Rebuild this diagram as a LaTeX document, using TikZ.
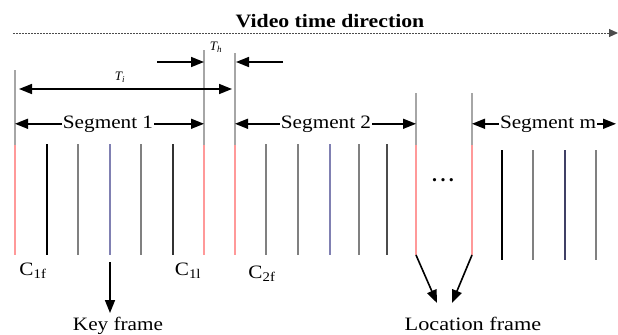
\documentclass[tikz,border=0pt]{standalone}
\usepackage{fontspec}
\setmainfont{Liberation Serif}
\usetikzlibrary{arrows.meta,positioning,calc}

\begin{document}
\begin{tikzpicture}[x=1bp,y=-1bp,
  lbl/.style={font=\fontsize{19}{21}\selectfont, inner sep=0pt, anchor=base, xscale=1.12},
  tip/.style={-{Triangle[length=13bp,width=10bp]}, line width=1.6bp},
  tiptip/.style={{Triangle[length=13bp,width=10bp]}-{Triangle[length=13bp,width=10bp]}, line width=1.6bp},
  frm/.style={line width=1.4bp}]
\useasboundingbox (0,0) rectangle (618,334);
% Time axis
\node[font=\bfseries\fontsize{19}{21}\selectfont, inner sep=0pt, anchor=base, xscale=1.15] (title) at (330,27) {Video time direction};
\coordinate (ax0) at (13,33);
\coordinate (ax1) at (618,33);
\draw[black!70, line width=1bp, dash pattern=on 2bp off 1bp, -{Triangle[length=9bp,width=8bp]}] (ax0) -- (ax1);
% Segment boundaries (first and last frames)
\foreach \x/\nm/\t in {15/b1/70, 204/b2/50, 235/b3/53, 416/b4/93, 472/b5/93} {
  \draw[frm, gray!70] (\x,\t) -- (\x,145);
  \draw[frm, red!40] (\x,145) -- (\x,255);
  \coordinate (\nm) at (\x,\t);
  \coordinate (\nm b) at (\x,255);
}
% Frames inside the segments
\foreach \x/\c in {47/black, 78/gray, 110/blue!25!gray!80, 141/gray, 173/black!80, 266/gray, 298/gray, 330/blue!25!gray!80, 359/gray, 387/black!70}
  \draw[frm, \c] (\x,144) -- (\x,255);
\foreach \x/\c in {502/black, 533/gray, 565/blue!20!black!75, 596/gray}
  \draw[frm, \c] (\x,150) -- (\x,260);
\node[font=\bfseries\fontsize{20}{20}\selectfont, inner sep=0pt, anchor=base] (dots) at (443,181) {.\,.\,.};
% T_h and T_i
\coordinate (th1) at (157,62);
\coordinate (th2) at (283,62);
\draw[tip] (th1) -- (b2 |- th1);
\draw[tip] (th2) -- ([xshift=1bp]b3 |- th2);
\node[font=\fontsize{13}{13}\selectfont\itshape, inner sep=0pt] (Th) at (216,47) {T\textsubscript{h}};
\coordinate (ti1) at (19,89);
\coordinate (ti2) at (232,89);
\draw[tiptip] (ti1) -- (ti2);
\node[font=\fontsize{13}{13}\selectfont\itshape, inner sep=0pt] (Ti) at (120,77) {T\textsubscript{i}};
% Segments
\node[lbl] (seg1) at (108,128) {Segment 1};
\node[lbl] (seg2) at (326,128) {Segment 2};
\node[lbl] (segm) at (548,128) {Segment m};
\coordinate (segend) at (616,0);
\draw[tip] ([xshift=-1bp]seg1.west) -- (seg1.west -| b1);
\draw[tip] ([xshift=1bp]seg1.east) -- (seg1.east -| b2);
\draw[tip] ([xshift=-1bp]seg2.west) -- (seg2.west -| b3);
\draw[tip] ([xshift=1bp]seg2.east) -- (seg2.east -| b4);
\draw[tip] ([xshift=-1bp]segm.west) -- (segm.west -| b5);
\draw[tip] ([xshift=1bp]segm.east) -- (segm.east -| segend);
% Frame labels
\node[lbl] (c1f) at (33,275) {C\textsubscript{1f}};
\node[lbl] (c1l) at (188,275) {C\textsubscript{1l}};
\node[lbl] (c2f) at (262,278) {C\textsubscript{2f}};
% Key frame and location frames
\coordinate (kf) at (110,262);
\coordinate (kfe) at (110,313);
\draw[tip] (kf) -- (kfe);
\node[lbl] (key) at (118,330) {Key frame};
\coordinate (lf1) at (437,303);
\coordinate (lf2) at (452,303);
\draw[tip] (b4b) -- (lf1);
\draw[tip] (b5b) -- (lf2);
\node[lbl, xscale=1.05] (loc) at (473,330) {Location frame};
\end{tikzpicture}
\end{document}
